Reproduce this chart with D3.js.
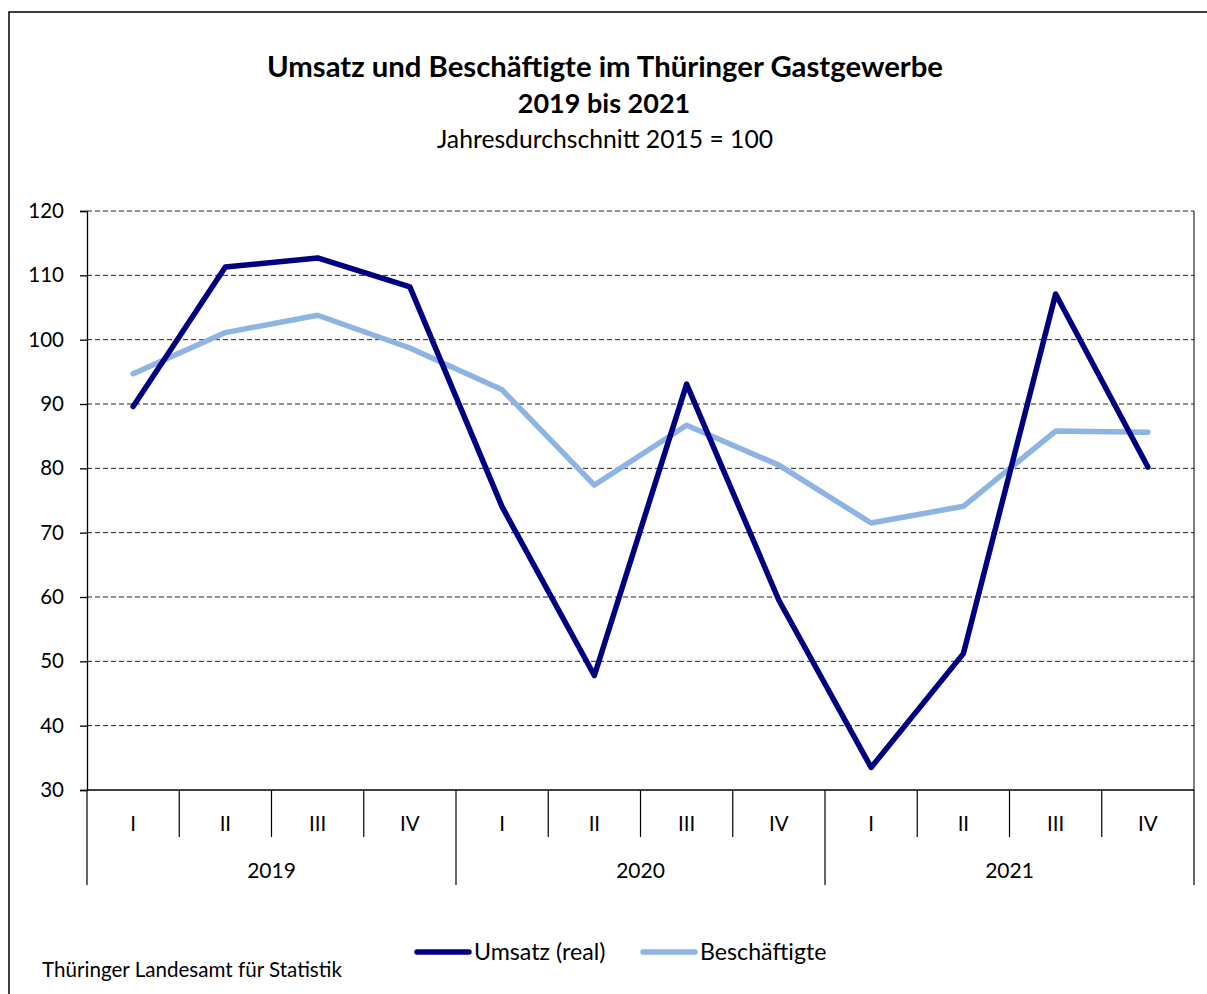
<!DOCTYPE html>
<html>
<head>
<meta charset="utf-8">
<script src="https://cdn.jsdelivr.net/npm/d3@7"></script>
<style>
  body { margin: 0; background: #fff; }
  svg text { font-family: "Lato", "Noto Sans", sans-serif; fill: #000; }
</style>
</head>
<body>
<svg id="chart" width="1207" height="994"></svg>
<script>
// quarters and years
var quarters = ["I", "II", "III", "IV"];
var years = ["2019", "2020", "2021"];

// index values, 2015 = 100
var umsatz = [89.6, 111.3, 112.7, 108.2, 74.0, 47.8, 93.1, 59.5, 33.5, 51.2, 107.1, 80.2];
var beschaeftigte = [94.7, 101.1, 103.8, 98.7, 92.2, 77.4, 86.7, 80.5, 71.5, 74.1, 85.8, 85.6];

var yTicks = [30, 40, 50, 60, 70, 80, 90, 100, 110, 120];

var seriesNames = ["Umsatz (real)", "Beschäftigte"];
var seriesColors = ["#000080", "#8db4e2"];

var svg = d3.select("#chart");

var margin = {left: 87, right: 1194, top: 211, bottom: 790};

// build category keys like "2019-I"
var cats = [];
years.forEach(function (y) {
	quarters.forEach(function (q) {
		cats.push(y + "-" + q);
	});
});

var x = d3.scaleBand()
	.domain(cats)
	.range([margin.left, margin.right]);

var y = d3.scaleLinear()
	.domain([30, 120])
	.range([margin.bottom, margin.top]);

// outer frame
svg.append("rect")
	.attr("x", 9)
	.attr("y", 12)
	.attr("width", 1220)
	.attr("height", 1000)
	.attr("fill", "none")
	.attr("stroke", "#000")
	.attr("stroke-width", 1.5);

// titles
svg.append("text")
	.attr("x", 605).attr("y", 77)
	.attr("text-anchor", "middle")
	.style("font-size", "29.3px")
	.style("font-weight", "bold")
	.text("Umsatz und Beschäftigte im Thüringer Gastgewerbe");

svg.append("text")
	.attr("x", 604).attr("y", 113)
	.attr("text-anchor", "middle")
	.style("font-size", "27px")
	.style("font-weight", "bold")
	.text("2019 bis 2021");

svg.append("text")
	.attr("x", 605).attr("y", 148)
	.attr("text-anchor", "middle")
	.style("font-size", "24.7px")
	.text("Jahresdurchschnitt 2015 = 100");

// gridlines
svg.append("g")
	.selectAll("line")
	.data(yTicks.filter(function (d) { return d > 30; }))
	.enter()
	.append("line")
	.attr("x1", margin.left).attr("x2", margin.right)
	.attr("y1", function (d) { return y(d); })
	.attr("y2", function (d) { return y(d); })
	.attr("stroke", "#222")
	.attr("stroke-width", 1)
	.attr("stroke-dasharray", "5,3");

// right border of plot area
svg.append("line")
	.attr("x1", margin.right).attr("x2", margin.right)
	.attr("y1", margin.top).attr("y2", margin.bottom)
	.attr("stroke", "#000");

// y axis
var yAxis = d3.axisLeft(y)
	.tickValues(yTicks)
	.tickSize(7)
	.tickPadding(16);

var yG = svg.append("g")
	.attr("transform", "translate(" + margin.left + ",0)")
	.call(yAxis);
yG.select(".domain").attr("stroke-width", 1.3);
yG.selectAll(".tick line").attr("stroke-width", 1.3);
yG.selectAll("text")
	.style("font-size", "20.5px")
	.attr("font-family", null);

// x axis line
svg.append("line")
	.attr("x1", margin.left).attr("x2", margin.right)
	.attr("y1", margin.bottom).attr("y2", margin.bottom)
	.attr("stroke", "#000")
	.attr("stroke-width", 1.5);

// quarter separators (longer at year boundaries)
var sepG = svg.append("g");
cats.concat(["end"]).forEach(function (c, i) {
	var xPos = i < cats.length ? x(c) : margin.right;
	var long = i % quarters.length == 0;
	sepG.append("line")
		.attr("x1", xPos).attr("x2", xPos)
		.attr("y1", margin.bottom)
		.attr("y2", long ? 885 : 837)
		.attr("stroke", "#000")
		.attr("stroke-width", 1.2);
});

// quarter labels
svg.append("g")
	.selectAll("text")
	.data(cats)
	.enter()
	.append("text")
	.attr("x", function (d) { return x(d) + x.bandwidth() / 2; })
	.attr("y", 831)
	.attr("text-anchor", "middle")
	.style("font-size", "20.5px")
	.text(function (d) { return d.split("-")[1]; });

// year labels
svg.append("g")
	.selectAll("text")
	.data(years)
	.enter()
	.append("text")
	.attr("x", function (d) {
		var first = x(d + "-" + quarters[0]);
		var last = x(d + "-" + quarters[quarters.length - 1]) + x.bandwidth();
		return (first + last) / 2;
	})
	.attr("y", 878)
	.attr("text-anchor", "middle")
	.style("font-size", "21px")
	.text(function (d) { return d; });

// lines
var line = d3.line()
	.x(function (d, i) { return x(cats[i]) + x.bandwidth() / 2; })
	.y(function (d) { return y(d); });

[beschaeftigte, umsatz].forEach(function (data, k) {
	var idx = k == 0 ? 1 : 0;
	svg.append("path")
		.datum(data)
		.attr("d", line)
		.attr("fill", "none")
		.attr("stroke", seriesColors[idx])
		.attr("stroke-width", 5.5)
		.attr("stroke-linejoin", "round")
		.attr("stroke-linecap", "round");
});

// legend
var legendX = [417, 643];
seriesNames.forEach(function (name, i) {
	svg.append("line")
		.attr("x1", legendX[i]).attr("x2", legendX[i] + 52)
		.attr("y1", 952).attr("y2", 952)
		.attr("stroke", seriesColors[i])
		.attr("stroke-width", 5.5)
		.attr("stroke-linecap", "round");
	svg.append("text")
		.attr("x", legendX[i] + 57)
		.attr("y", 960)
		.style("font-size", "23.2px")
		.text(name);
});

// source
svg.append("text")
	.attr("x", 42).attr("y", 977)
	.style("font-size", "20.6px")
	.text("Thüringer Landesamt für Statistik");
</script>
</body>
</html>
